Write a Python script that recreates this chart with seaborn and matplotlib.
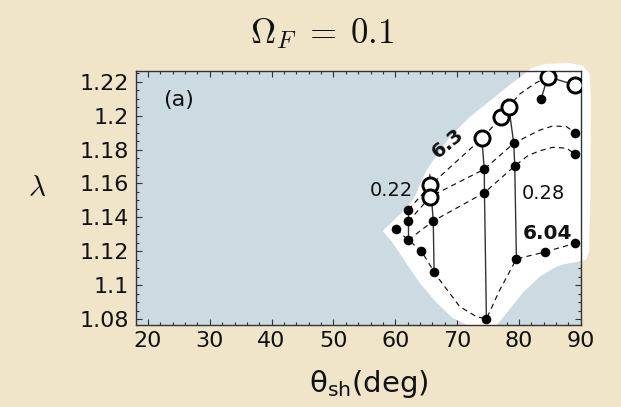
import matplotlib
matplotlib.use("Agg")
import matplotlib.pyplot as plt
import seaborn as sns
from matplotlib.patches import Polygon
from matplotlib.ticker import FixedLocator, MultipleLocator

# ---- data: shock angle theta_sh (deg) vs lambda ----
# open circles (marginal solutions)
open_theta = [65.7, 65.7, 74.0, 77.18, 78.36, 84.66, 89.07]
open_lambda = [1.1590, 1.1523, 1.1866, 1.1990, 1.2053, 1.2229, 1.2181]

# filled dots (computed solutions)
dot_theta = [60.17, 62.11, 62.11, 62.11, 64.18, 66.15, 66.28, 74.40, 74.43,
             74.75, 79.17, 79.33, 79.60, 83.61, 84.18, 89.14, 89.11, 89.14]
dot_lambda = [1.1329, 1.1445, 1.1376, 1.1267, 1.1204, 1.1379, 1.1080, 1.1684,
              1.1546, 1.0802, 1.1837, 1.1703, 1.1155, 1.2098, 1.1196, 1.1248,
              1.1898, 1.1772]

# dashed curves (constant-parameter families)
curve_a_theta = [62.11, 65.7, 74.0, 77.18, 78.36, 80.14, 82.56, 84.66]
curve_a_lambda = [1.1445, 1.1590, 1.1866, 1.1990, 1.2053, 1.2127, 1.2189, 1.2229]
curve_b_theta = [62.11, 65.7, 74.40, 79.17, 81.5, 83.4, 85.5, 87.7, 89.11]
curve_b_lambda = [1.1376, 1.1523, 1.1684, 1.1837, 1.1880, 1.1915, 1.1939, 1.1935, 1.1898]
curve_c_theta = [62.11, 66.15, 74.43, 79.33, 81.5, 83.4, 85.5, 87.7, 89.14]
curve_c_lambda = [1.1267, 1.1379, 1.1546, 1.1703, 1.1765, 1.1793, 1.1813, 1.1808, 1.1772]
curve_d_theta = [60.17, 62.11, 64.18, 66.28, 67.2, 70.44, 73.14, 74.75, 76.9,
                 79.60, 84.18, 89.14]
curve_d_lambda = [1.1329, 1.1267, 1.1204, 1.1080, 1.1031, 1.0874, 1.0815, 1.0802,
                  1.0972, 1.1155, 1.1196, 1.1248]

# solid connectors (constant-angle families)
solid_lines = [
    ([62.11, 62.11], [1.1445, 1.1267]),
    ([65.6, 65.7, 66.15, 66.28], [1.1652, 1.1590, 1.1379, 1.1080]),
    ([74.0, 74.40, 74.43, 74.75], [1.1866, 1.1684, 1.1546, 1.0802]),
    ([78.36, 79.17, 79.33, 79.60], [1.2053, 1.1837, 1.1703, 1.1155]),
    ([83.61, 84.66], [1.2098, 1.2229]),
    ([84.66, 89.07], [1.2229, 1.2181]),
]

# allowed region boundary
region_theta = [57.99, 59.93, 62.03, 63.32, 64.13, 65.10, 66.40, 68.82, 72.05,
                75.29, 78.52, 80.46, 82.08, 84.18, 88.22, 90.32, 91.45, 91.65,
                91.55, 91.35, 90.84, 89.51, 87.57, 86.07, 83.37, 80.62, 78.03,
                76.42, 71.57, 69.31, 66.72, 63.97, 61.22, 59.61]
region_lambda = [1.1320, 1.1391, 1.1462, 1.1532, 1.1609, 1.1680, 1.1750, 1.1874,
                 1.1992, 1.2086, 1.2181, 1.2234, 1.2281, 1.2304, 1.2310, 1.2293,
                 1.2245, 1.2092, 1.1503, 1.1196, 1.1150, 1.1138, 1.1126, 1.1110,
                 1.1051, 1.0955, 1.0837, 1.0766, 1.0766, 1.0807, 1.0896, 1.1013,
                 1.1161, 1.1249]

x_ticks = [20, 30, 40, 50, 60, 70, 80, 90]
x_tick_labels = ["20", "30", "40", "50", "60", "70", "80", "90"]
y_ticks = [1.08, 1.10, 1.12, 1.14, 1.16, 1.18, 1.20, 1.22]
y_tick_labels = ["1.08", "1.1", "1.12", "1.14", "1.16", "1.18", "1.2", "1.22"]

# ---- styling ----
page_color = "#F0E5C8"
panel_color = "#CCDAE2"
ink = "#111111"

sns.set_theme(style="ticks")
plt.rcParams["font.family"] = ["DejaVu Sans"]
plt.rcParams["mathtext.fontset"] = "dejavusans"

fig = plt.figure(figsize=(6.21, 4.07), dpi=100, facecolor=page_color)
ax = fig.add_axes([0.219, 0.2015, 0.7166, 0.6241])
ax.set_facecolor(panel_color)
ax.set_xlim(18.06, 90.05)
ax.set_ylim(1.0766, 1.2263)

region = Polygon(list(zip(region_theta, region_lambda)), closed=True,
                 facecolor="white", edgecolor="none", zorder=1, clip_on=False)
ax.add_patch(region)

dash = (0, (4.5, 3.5))
for cx, cy in [(curve_a_theta, curve_a_lambda), (curve_b_theta, curve_b_lambda),
               (curve_c_theta, curve_c_lambda), (curve_d_theta, curve_d_lambda)]:
    sns.lineplot(x=cx, y=cy, sort=False, estimator=None, ax=ax, color=ink,
                 lw=0.85, linestyle=dash, zorder=3)

for sx, sy in solid_lines:
    sns.lineplot(x=sx, y=sy, sort=False, estimator=None, ax=ax, color="#333333",
                 lw=1.0, zorder=3)

sns.scatterplot(x=dot_theta, y=dot_lambda, ax=ax, s=48, color="black",
                edgecolor="black", linewidth=0, zorder=5)
sns.scatterplot(x=open_theta, y=open_lambda, ax=ax, s=118, color="white",
                edgecolor="black", linewidth=2.1, zorder=6)

# axes, ticks
ax.xaxis.set_major_locator(FixedLocator(x_ticks))
ax.set_xticklabels(x_tick_labels)
ax.yaxis.set_major_locator(FixedLocator(y_ticks))
ax.set_yticklabels(y_tick_labels)
ax.xaxis.set_minor_locator(MultipleLocator(2))
ax.yaxis.set_minor_locator(MultipleLocator(0.005))
ax.tick_params(which="both", direction="in", top=True, right=True,
               colors="#333333", labelcolor=ink, width=0.8)
ax.tick_params(which="major", length=4, labelsize=16, pad=5)
ax.tick_params(axis="x", which="major", pad=4)
ax.tick_params(which="minor", length=2.3)
for sp in ax.spines.values():
    sp.set_color("#333333")
    sp.set_linewidth(1.0)
ax.set_xlabel("")
ax.set_ylabel("")

# labels inside the panel
ax.text(22.4, 1.2092, "(a)", fontsize=16, ha="left", va="center", color=ink)
ax.text(68.55, 1.1837, "6.3", fontsize=14.5, fontweight="bold", rotation=40,
        ha="center", va="center", color=ink, zorder=7)
ax.text(59.39, 1.1556, "0.22", fontsize=14, ha="center", va="center", color=ink, zorder=7)
ax.text(84.02, 1.1542, "0.28", fontsize=14, ha="center", va="center", color=ink, zorder=7)
ax.text(84.71, 1.1307, "6.04", fontsize=14.5, fontweight="bold", ha="center",
        va="center", color=ink, zorder=7)

# axis titles and heading
fig.text(369 / 621, 1 - 392 / 407, r"θ$_{\rm sh}$(deg)", fontsize=21,
         ha="center", va="baseline", color=ink)
fig.text(37 / 621, 1 - 188 / 407, r"$\lambda$", fontsize=21, math_fontfamily="cm",
         ha="center", va="center", color=ink)
fig.text(322 / 621, 1 - 34 / 407, r"$\Omega_F\;=\;0.1$", fontsize=25,
         math_fontfamily="cm", ha="center", va="center", color=ink)

fig.savefig("out.png", dpi=100, facecolor=page_color)
